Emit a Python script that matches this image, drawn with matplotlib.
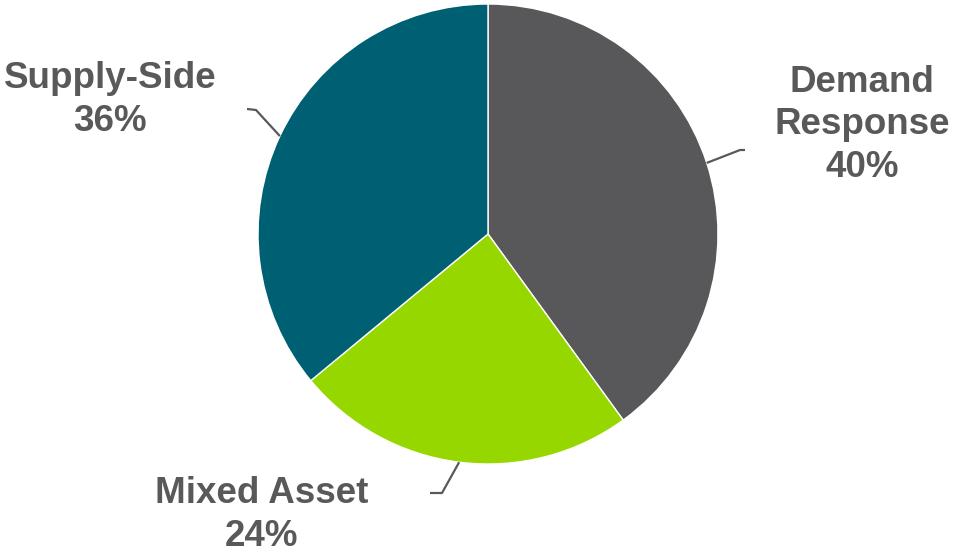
import numpy as np
from matplotlib import pyplot as plt

labels = ["Demand\nResponse", "Mixed Asset", "Supply-Side"]
shares = [40, 24, 36]
colors = ["#58585a", "#97d700", "#006073"]

# layout in pixel coordinates (y measured up from bottom)
W, H = 956, 554
cx, cy, R = 488, 320, 230
text_pos = [(862, 429), (262, 39), (110, 454)]
elbows = [[(740, 404), (745, 404)], [(442, 61), (430, 61)], [(256, 444), (247, 445)]]

fig = plt.figure(figsize=(W / 100, H / 100), dpi=100)
ax = fig.add_axes([0, 0, 1, 1])

wedges, _ = ax.pie(shares, colors=colors, startangle=90, counterclock=False,
                   center=(cx, cy), radius=R, frame=True,
                   wedgeprops=dict(linewidth=1, edgecolor="white"))
ax.set_xlim(0, W)
ax.set_ylim(0, H)
ax.set_aspect("equal")
ax.axis("off")

for w, lab, s, (tx, ty), el in zip(wedges, labels, shares, text_pos, elbows):
    mid = np.deg2rad((w.theta1 + w.theta2) / 2)
    sx, sy = cx + R * np.cos(mid), cy + R * np.sin(mid)
    xs = [sx] + [p[0] for p in el]
    ys = [sy] + [p[1] for p in el]
    ax.plot(xs, ys, color="#595959", lw=1.6, solid_capstyle="butt")
    ax.text(tx, ty, f"{lab}\n{s}%", ha="center", va="center",
            fontsize=26.5, fontweight="bold", color="#595959",
            family="Liberation Sans", linespacing=1.28)

fig.savefig("out.png", dpi=100)
